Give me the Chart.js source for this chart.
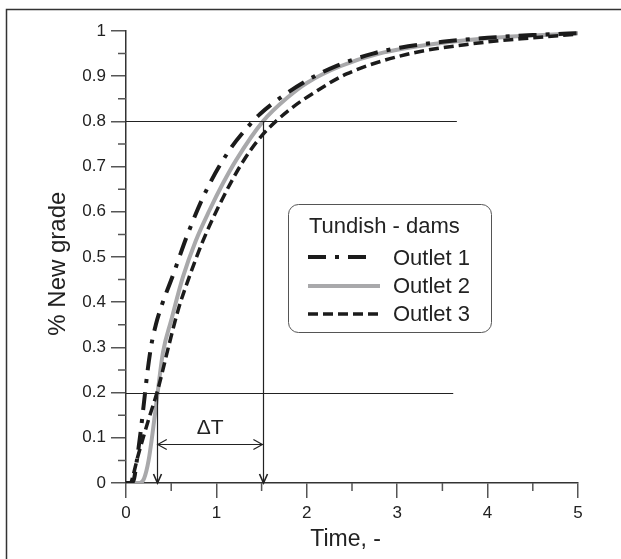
<!DOCTYPE html>
<html>
<head>
<meta charset="utf-8">
<script src="https://cdn.jsdelivr.net/npm/chart.js@4.4.0/dist/chart.umd.min.js"></script>
<style>
  html, body { margin: 0; padding: 0; background: #fff; }
</style>
</head>
<body>
<canvas id="chart" width="621" height="559"></canvas>
<script>
// values
const outlet1X = [0, 0.06, 0.09, 0.12, 0.16, 0.2, 0.24, 0.28, 0.33, 0.39, 0.52, 0.685, 0.89, 1.146, 1.37, 1.48, 1.74, 2.07, 2.33, 2.73, 3.03, 3.5, 4, 4.5, 5];
const outlet1Y = [0, 0, 0.01, 0.05, 0.11, 0.18, 0.25, 0.305, 0.35, 0.39, 0.46, 0.552, 0.648, 0.737, 0.793, 0.816, 0.857, 0.898, 0.923, 0.95, 0.963, 0.976, 0.985, 0.991, 0.995];

const outlet2X = [0, 0.15, 0.2, 0.25, 0.3, 0.35, 0.41, 0.5, 0.63, 0.77, 0.925, 1.07, 1.22, 1.515, 1.8, 2.0, 2.37, 2.8, 3.47, 4, 4.5, 5];
const outlet2Y = [0, 0, 0.01, 0.05, 0.12, 0.2, 0.29, 0.36, 0.456, 0.535, 0.604, 0.662, 0.715, 0.8, 0.855, 0.885, 0.922, 0.95, 0.973, 0.984, 0.99, 0.995];

const outlet3X = [0, 0.05, 0.075, 0.13, 0.19, 0.26, 0.35, 0.48, 0.58, 0.7, 0.85, 1.02, 1.29, 1.5, 1.81, 2.1, 2.44, 3.1, 3.84, 4.5, 5];
const outlet3Y = [0, 0, 0.014, 0.058, 0.1, 0.147, 0.205, 0.309, 0.385, 0.456, 0.535, 0.61, 0.71, 0.768, 0.826, 0.866, 0.905, 0.948, 0.972, 0.985, 0.993];

const legendTitle = 'Tundish - dams';
const seriesNames = ['Outlet 1', 'Outlet 2', 'Outlet 3'];

// reference lines and the delta T markers
const refLevels = [0.8, 0.2];
const refLineEnd = [3.66, 3.62];
const deltaStart = 0.34;
const deltaEnd = 1.52;
const deltaLevel = 0.086;

const FONT = "'Liberation Sans', Arial, Helvetica, sans-serif";
const INK = '#222';

const toPoints = (xs, ys) => xs.map((x, i) => ({x: x, y: ys[i]}));

const styles = [
  {color: '#1b1b1b', width: 4, dash: [18, 9, 4, 9]},
  {color: '#a9a9ab', width: 4, dash: []},
  {color: '#1b1b1b', width: 3.5, dash: [10, 5]}
];

const drawings = {
  id: 'drawings',
  afterDatasetsDraw(chart) {
    const ctx = chart.ctx;
    const xs = chart.scales.x, ys = chart.scales.y;
    const area = chart.chartArea;
    ctx.save();

    // outer frame (only left and top fall inside the picture)
    ctx.strokeStyle = '#333';
    ctx.lineWidth = 1.5;
    ctx.beginPath();
    ctx.moveTo(6.5, 559);
    ctx.lineTo(6.5, 9.5);
    ctx.lineTo(621, 9.5);
    ctx.stroke();

    // minor ticks
    ctx.strokeStyle = '#555';
    ctx.lineWidth = 1.5;
    ctx.beginPath();
    for (let v = 0.5; v < 5; v += 1) {
      const px = xs.getPixelForValue(v);
      ctx.moveTo(px, area.bottom);
      ctx.lineTo(px, area.bottom + 8);
    }
    for (let v = 0.05; v < 1; v += 0.1) {
      const py = ys.getPixelForValue(v);
      ctx.moveTo(area.left, py);
      ctx.lineTo(area.left - 8, py);
    }
    ctx.stroke();

    // horizontal reference lines
    ctx.strokeStyle = INK;
    ctx.lineWidth = 1;
    ctx.beginPath();
    refLevels.forEach((lv, i) => {
      const py = Math.round(ys.getPixelForValue(lv)) + 0.5;
      ctx.moveTo(xs.getPixelForValue(0), py);
      ctx.lineTo(xs.getPixelForValue(refLineEnd[i]), py);
    });
    ctx.stroke();

    // vertical arrows down to the axis
    const y0 = ys.getPixelForValue(0);
    [[deltaStart, 0.2], [deltaEnd, 0.8]].forEach(([xv, lv]) => {
      const px = Math.round(xs.getPixelForValue(xv)) + 0.5;
      ctx.lineWidth = 1.2;
      ctx.beginPath();
      ctx.moveTo(px, ys.getPixelForValue(lv));
      ctx.lineTo(px, y0);
      ctx.stroke();
      ctx.lineWidth = 1.6;
      ctx.beginPath();
      ctx.moveTo(px - 4, y0 - 9);
      ctx.lineTo(px, y0);
      ctx.lineTo(px + 4, y0 - 9);
      ctx.stroke();
    });

    // double arrow for delta T
    const ax = xs.getPixelForValue(deltaStart) + 1;
    const bx = xs.getPixelForValue(deltaEnd) - 1;
    const ay = Math.round(ys.getPixelForValue(deltaLevel)) + 0.5;
    ctx.lineWidth = 1.2;
    ctx.beginPath();
    ctx.moveTo(ax, ay);
    ctx.lineTo(bx, ay);
    ctx.moveTo(ax + 9, ay - 5);
    ctx.lineTo(ax, ay);
    ctx.lineTo(ax + 9, ay + 5);
    ctx.moveTo(bx - 9, ay - 5);
    ctx.lineTo(bx, ay);
    ctx.lineTo(bx - 9, ay + 5);
    ctx.stroke();

    ctx.fillStyle = INK;
    ctx.font = '21px ' + FONT;
    ctx.textAlign = 'center';
    ctx.textBaseline = 'alphabetic';
    ctx.fillText('\u0394T', (ax + bx) / 2, ay - 11);

    // legend box
    const lx = 288.5, ly = 204.5, lw = 203, lh = 128, r = 10;
    ctx.beginPath();
    ctx.moveTo(lx + r, ly);
    ctx.arcTo(lx + lw, ly, lx + lw, ly + lh, r);
    ctx.arcTo(lx + lw, ly + lh, lx, ly + lh, r);
    ctx.arcTo(lx, ly + lh, lx, ly, r);
    ctx.arcTo(lx, ly, lx + lw, ly, r);
    ctx.closePath();
    ctx.fillStyle = '#fff';
    ctx.fill();
    ctx.strokeStyle = '#555';
    ctx.lineWidth = 1;
    ctx.stroke();

    ctx.fillStyle = INK;
    ctx.font = '22px ' + FONT;
    ctx.textAlign = 'left';
    ctx.fillText(legendTitle, 309, 233);

    const rowsY = [257, 286, 314];
    const textY = [265, 293, 321];
    seriesNames.forEach((name, i) => {
      const st = styles[i];
      ctx.strokeStyle = st.color;
      ctx.lineWidth = st.width;
      ctx.setLineDash(st.dash);
      ctx.beginPath();
      ctx.moveTo(308, rowsY[i]);
      ctx.lineTo(i === 0 ? 374 : 380, rowsY[i]);
      ctx.stroke();
      ctx.setLineDash([]);
      ctx.fillStyle = INK;
      ctx.fillText(name, 393, textY[i]);
    });

    ctx.restore();
  }
};

new Chart(document.getElementById('chart'), {
  type: 'line',
  data: {
    datasets: [
      {
        label: seriesNames[0],
        data: toPoints(outlet1X, outlet1Y),
        borderColor: styles[0].color,
        borderWidth: styles[0].width,
        borderDash: styles[0].dash,
        order: 1
      },
      {
        label: seriesNames[1],
        data: toPoints(outlet2X, outlet2Y),
        borderColor: styles[1].color,
        borderWidth: styles[1].width,
        order: 3
      },
      {
        label: seriesNames[2],
        data: toPoints(outlet3X, outlet3Y),
        borderColor: styles[2].color,
        borderWidth: styles[2].width,
        borderDash: styles[2].dash,
        order: 2
      }
    ]
  },
  options: {
    responsive: false,
    animation: false,
    layout: {padding: {top: 31, right: 43, left: 0, bottom: 0}},
    elements: {
      point: {radius: 0},
      line: {cubicInterpolationMode: 'monotone', fill: false, borderCapStyle: 'butt'}
    },
    plugins: {
      legend: {display: false},
      tooltip: {enabled: false}
    },
    scales: {
      x: {
        type: 'linear',
        min: 0,
        max: 5,
        ticks: {stepSize: 1, color: INK, font: {family: FONT, size: 17}, padding: 5, maxRotation: 0},
        grid: {drawOnChartArea: false, tickLength: 15, color: '#555', lineWidth: 1.5},
        border: {display: true, color: '#333', width: 1.5},
        title: {display: true, text: 'Time, -  ', color: INK, font: {family: FONT, size: 23}, padding: {top: 0, bottom: 6}},
        afterFit: (scale) => { scale.height = 76; }
      },
      y: {
        min: 0,
        max: 1,
        ticks: {stepSize: 0.1, color: INK, font: {family: FONT, size: 17}, padding: 5,
          callback: (v) => String(+v.toFixed(1))},
        grid: {drawOnChartArea: false, tickLength: 15, color: '#555', lineWidth: 1.5},
        border: {display: true, color: '#333', width: 1.5},
        title: {display: true, text: '% New grade  ', color: INK, font: {family: FONT, size: 24}, padding: {top: 44, bottom: 0}},
        afterFit: (scale) => { scale.width = 126; }
      }
    }
  },
  plugins: [drawings]
});
</script>
</body>
</html>
